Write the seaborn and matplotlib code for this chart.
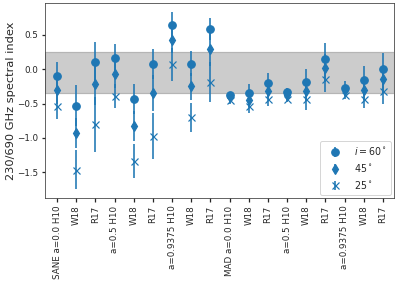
import numpy as np
import pandas as pd
import matplotlib
matplotlib.use("Agg")
import matplotlib.pyplot as plt
import seaborn as sns

labels = ["SANE a=0.0 H10", "W18", "R17", "a=0.5 H10", "W18", "R17",
          "a=0.9375 H10", "W18", "R17", "MAD a=0.0 H10", "W18", "R17",
          "a=0.5 H10", "W18", "R17", "a=0.9375 H10", "W18", "R17"]

i60 = [-0.10, -0.53, 0.11, 0.16, -0.43, 0.07, 0.645, 0.08, 0.58,
       -0.37, -0.34, -0.20, -0.33, -0.19, 0.155, -0.27, -0.16, 0.005]
e60 = [0.20, 0.30, 0.29, 0.20, 0.22, 0.22, 0.185, 0.18, 0.16,
       0.04, 0.12, 0.15, 0.05, 0.19, 0.23, 0.10, 0.20, 0.23]
i45 = [-0.30, -0.93, -0.22, -0.07, -0.83, -0.345, 0.43, -0.25, 0.30,
       -0.40, -0.45, -0.32, -0.37, -0.32, 0.015, -0.31, -0.30, -0.15]
e45 = [0.20, 0.22, 0.30, 0.20, 0.22, 0.26, 0.20, 0.20, 0.25,
       0.04, 0.10, 0.12, 0.05, 0.15, 0.20, 0.08, 0.15, 0.20]
i25 = [-0.54, -1.46, -0.80, -0.39, -1.34, -0.97, 0.07, -0.70, -0.19,
       -0.45, -0.54, -0.43, -0.44, -0.44, -0.14, -0.38, -0.44, -0.32]
e25 = [0.19, 0.29, 0.40, 0.18, 0.25, 0.33, 0.24, 0.21, 0.29,
       0.06, 0.10, 0.10, 0.04, 0.16, 0.19, 0.05, 0.13, 0.19]

band = (-0.35, 0.25)

sns.set_theme(style="ticks", rc={
    "xtick.labelsize": 8.8, "ytick.labelsize": 8.8, "axes.labelsize": 11.4,
    "legend.fontsize": 9.5, "xtick.major.size": 3.5, "ytick.major.size": 3.5,
    "axes.edgecolor": "0.25", "axes.linewidth": 0.8,
})
plt.rcParams["font.family"] = ["DejaVu Sans"]

df = pd.DataFrame({"label": labels, "i60": i60, "e60": e60,
                   "i45": i45, "e45": e45, "i25": i25, "e25": e25})
x = np.arange(len(df))

fig, ax = plt.subplots(figsize=(398 / 72, 283 / 72), dpi=72)
fig.subplots_adjust(left=0.113, right=0.991, top=0.990, bottom=0.299)

ax.axhspan(*band, facecolor="#cccccc", edgecolor="#b5b5b5", lw=1.2, zorder=0)

c = "#1f77b4"
series = [("i60", "e60", "o", 7.5, r"$i=60^\circ$"),
          ("i45", "e45", "d", 6.5, r"$45^\circ$"),
          ("i25", "e25", "x", 7, r"$25^\circ$")]
for col, err, m, ms, lab in series:
    ax.errorbar(x, df[col], yerr=df[err], fmt=m, ms=ms, color=c,
                elinewidth=1.6, mew=1.2, label=lab, zorder=3)

ax.set_xticks(x)
ax.set_xticklabels(df["label"], rotation=90)
ax.set_xlim(-0.63, 17.6)
ax.set_ylim(-1.88, 0.965)
ax.set_ylabel("230/690 GHz spectral index", labelpad=1)
ax.legend(loc="lower right", frameon=True, fancybox=True,
          borderaxespad=0.4, handlelength=2.4, handletextpad=0.8)

fig.savefig("out.png", dpi=72)
